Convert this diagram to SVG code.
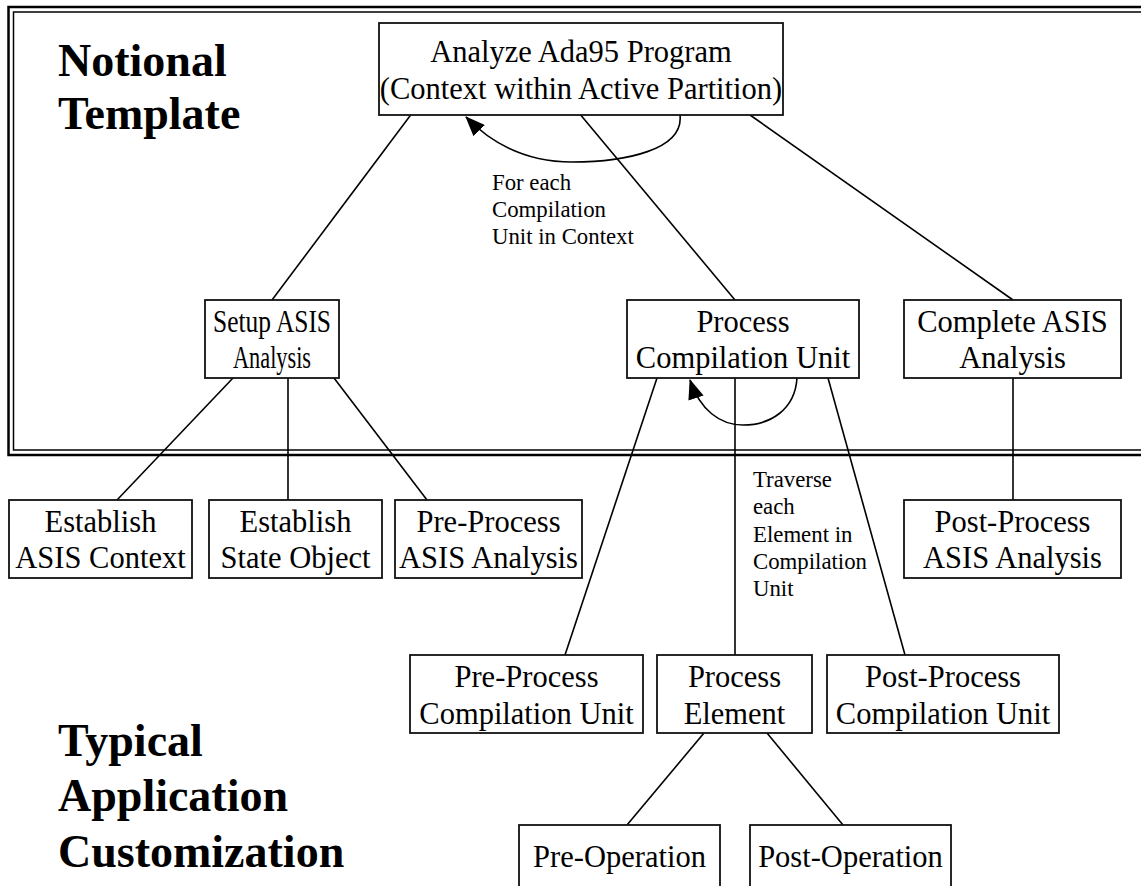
<svg xmlns="http://www.w3.org/2000/svg" width="1141" height="886" viewBox="0 0 1141 886">
<style>
.box{fill:#fff;stroke:#111;stroke-width:1.8}
.t{font-family:"Liberation Serif","Times New Roman",serif;font-size:30.5px;fill:#000;text-anchor:middle}
.lbl{font-family:"Liberation Serif","Times New Roman",serif;font-size:22.8px;fill:#000}
.big{font-family:"Liberation Serif","Times New Roman",serif;font-size:46px;font-weight:bold;fill:#000}
.c{fill:none;stroke:#000;stroke-width:1.6}
</style>
<defs>
<marker id="ah" viewBox="0 0 20 16" refX="19" refY="8" markerWidth="20" markerHeight="16" markerUnits="userSpaceOnUse" orient="auto">
<path d="M0,0 L20,8 L0,16 Z" fill="#000"/>
</marker>
</defs>
<rect width="1141" height="886" fill="#fff"/>
<g id="frame">
<rect x="8.5" y="7" width="1150" height="448" fill="none" stroke="#000" stroke-width="2.5"/>
<rect x="13.5" y="12" width="1150" height="438" fill="none" stroke="#000" stroke-width="1.5"/>
</g>
<g id="titles">
<text class="big" x="58" y="76">Notional</text>
<text class="big" x="58" y="129">Template</text>
<text class="big" x="58" y="755.5">Typical</text>
<text class="big" x="58" y="811">Application</text>
<text class="big" x="58" y="866.5">Customization</text>
</g>
<g id="connectors">
<line class="c" x1="410.7" y1="115" x2="272" y2="300"/>
<line class="c" x1="580.7" y1="115" x2="735" y2="300"/>
<line class="c" x1="750" y1="115" x2="1013" y2="300"/>
<path class="c" d="M680,115 C684,150 625,162 572,162 C530,162 495,147 466,117" marker-end="url(#ah)"/>
<line class="c" x1="233" y1="378" x2="117" y2="500"/>
<line class="c" x1="288" y1="378" x2="288" y2="500"/>
<line class="c" x1="334" y1="378" x2="427" y2="500"/>
<line class="c" x1="657" y1="378" x2="565" y2="655"/>
<line class="c" x1="735" y1="378" x2="735" y2="655"/>
<line class="c" x1="828" y1="378" x2="905" y2="655"/>
<path class="c" d="M797,378 C795,410 770,425 743,425 C720,425 700,410 690,380" marker-end="url(#ah)"/>
<line class="c" x1="1013" y1="378" x2="1013" y2="500"/>
<line class="c" x1="704" y1="733" x2="627" y2="825"/>
<line class="c" x1="767" y1="733" x2="843" y2="825"/>
</g>
<g id="labels">
<text class="lbl" x="492"><tspan x="492" y="190">For each</tspan><tspan x="492" y="217">Compilation</tspan><tspan x="492" y="244">Unit in Context</tspan></text>
<text class="lbl" x="753"><tspan x="753" y="487">Traverse</tspan><tspan x="753" y="514">each</tspan><tspan x="753" y="542">Element in</tspan><tspan x="753" y="569">Compilation</tspan><tspan x="753" y="596">Unit</tspan></text>
</g>
<g id="n-analyze">
<rect class="box" x="379" y="23" width="404" height="92"/>
<text class="t" x="581" y="62">Analyze Ada95 Program</text>
<text class="t" x="581" y="99">(Context within Active Partition)</text>
</g>
<g id="n-setup">
<rect class="box" x="205" y="300" width="134" height="78"/>
<text class="t" x="272" y="332" textLength="118" lengthAdjust="spacingAndGlyphs">Setup ASIS</text>
<text class="t" x="272" y="368" textLength="78" lengthAdjust="spacingAndGlyphs">Analysis</text>
</g>
<g id="n-pcu">
<rect class="box" x="627" y="300" width="232" height="78"/>
<text class="t" x="743" y="332">Process</text>
<text class="t" x="743" y="368">Compilation Unit</text>
</g>
<g id="n-complete">
<rect class="box" x="904" y="300" width="217" height="78"/>
<text class="t" x="1012.5" y="332">Complete ASIS</text>
<text class="t" x="1012.5" y="368">Analysis</text>
</g>
<g id="n-est-ctx">
<rect class="box" x="9" y="500" width="183" height="78"/>
<text class="t" x="100.5" y="532">Establish</text>
<text class="t" x="100.5" y="568">ASIS Context</text>
</g>
<g id="n-est-state">
<rect class="box" x="209" y="500" width="173" height="78"/>
<text class="t" x="295.5" y="532">Establish</text>
<text class="t" x="295.5" y="568">State Object</text>
</g>
<g id="n-pre-asis">
<rect class="box" x="395" y="500" width="187" height="78"/>
<text class="t" x="488.5" y="532">Pre-Process</text>
<text class="t" x="488.5" y="568">ASIS Analysis</text>
</g>
<g id="n-post-asis">
<rect class="box" x="904" y="500" width="217" height="78"/>
<text class="t" x="1012.5" y="532">Post-Process</text>
<text class="t" x="1012.5" y="568">ASIS Analysis</text>
</g>
<g id="n-pre-cu">
<rect class="box" x="410" y="655" width="233" height="78"/>
<text class="t" x="526.5" y="687">Pre-Process</text>
<text class="t" x="526.5" y="724">Compilation Unit</text>
</g>
<g id="n-elem">
<rect class="box" x="657" y="655" width="155" height="78"/>
<text class="t" x="734.5" y="687">Process</text>
<text class="t" x="734.5" y="724">Element</text>
</g>
<g id="n-post-cu">
<rect class="box" x="827" y="655" width="232" height="78"/>
<text class="t" x="943" y="687">Post-Process</text>
<text class="t" x="943" y="724">Compilation Unit</text>
</g>
<g id="n-preop">
<rect class="box" x="519" y="825" width="201" height="80"/>
<text class="t" x="619.5" y="867">Pre-Operation</text>
</g>
<g id="n-postop">
<rect class="box" x="750" y="825" width="201" height="80"/>
<text class="t" x="850.5" y="867">Post-Operation</text>
</g>
</svg>
